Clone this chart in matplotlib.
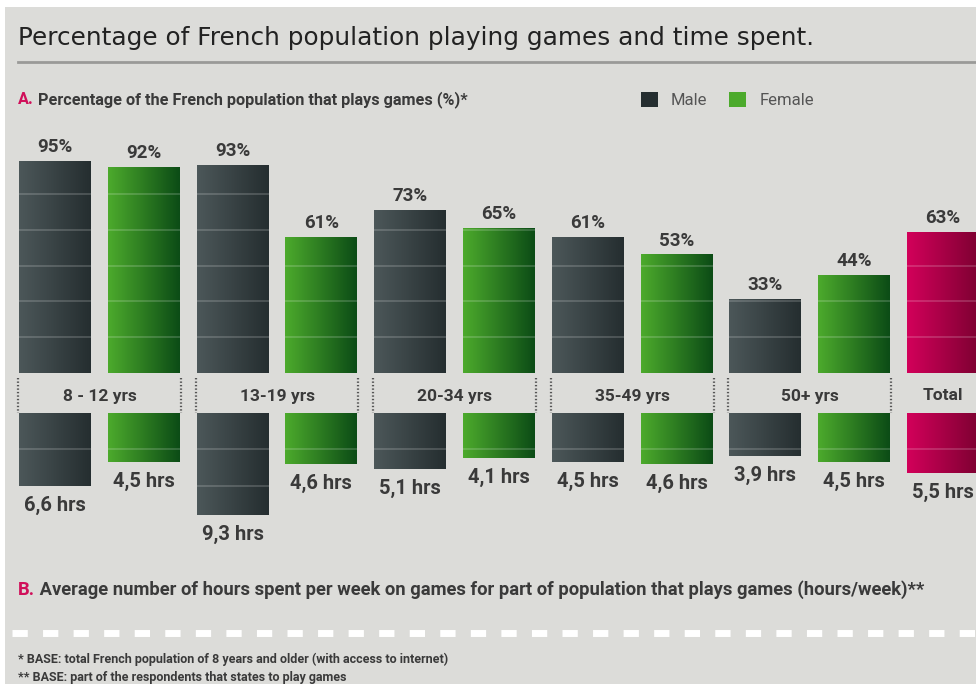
import numpy as np
import matplotlib.pyplot as plt
from matplotlib import font_manager, transforms
from matplotlib.colors import LinearSegmentedColormap
from matplotlib.patches import Patch

plt.rcParams['lines.scale_dashes'] = False

groups = ['8 - 12 yrs', '13-19 yrs', '20-34 yrs', '35-49 yrs', '50+ yrs']
male_pct = [95, 93, 73, 61, 33]
female_pct = [92, 61, 65, 53, 44]
total_pct = 63
male_hrs = [6.6, 9.3, 5.1, 4.5, 3.9]
female_hrs = [4.5, 4.6, 4.1, 4.6, 4.5]
total_hrs = 5.5

names = {f.name for f in font_manager.fontManager.ttflist}
COND = 'Roboto' if 'Roboto' in names else 'DejaVu Sans'
TITLE_FONT = 'DejaVu Sans'

BG = '#dcdcd9'
TXT = '#3a3a3a'
MAGENTA = '#d0105a'
male_cols = ('#4c5759', '#252e30')
female_cols = ('#4caa2c', '#0c4c16')
total_cols = ('#d2005a', '#7e0032')

W, H = 976, 684
fig = plt.figure(figsize=(W / 100, H / 100), dpi=100, facecolor=BG)

# background axes in pixel units for the decoration
bg = fig.add_axes([0, 0, 1, 1], zorder=0)
bg.set_xlim(0, W)
bg.set_ylim(H, 0)
bg.axis('off')
bg.axhspan(0, 7, color='white', lw=0)
bg.axvspan(0, 4.5, color='white', lw=0)
bg.plot([18, W], [62, 62], color='#9a9a98', lw=2)
bg.plot([12, W], [633, 633], color='white', lw=5, dashes=(11, 11))

bg.text(18, 38, 'Percentage of French population playing games and time spent.',
        fontsize=17.8, color='#222222', family=TITLE_FONT, va='center')

ta = bg.text(18, 100, 'A.', color=MAGENTA, fontsize=11.7, family=COND, fontweight='bold', va='center')
bg.annotate(' Percentage of the French population that plays games (%)*', xy=(1, 0.5), xycoords=ta,
            va='center', color=TXT, fontsize=11.7, family=COND, fontweight='bold')
tb = bg.text(18, 590, 'B.', color=MAGENTA, fontsize=13.2, family=COND, fontweight='bold', va='center')
bg.annotate(' Average number of hours spent per week on games for part of population that plays games (hours/week)**',
            xy=(1, 0.5), xycoords=tb, va='center', color=TXT, fontsize=13.2, family=COND, fontweight='bold')
bg.text(18, 659, '* BASE: total French population of 8 years and older (with access to internet)',
        fontsize=9, color=TXT, family=COND, fontweight='bold', va='center')
bg.text(18, 678, '** BASE: part of the respondents that states to play games',
        fontsize=9, color=TXT, family=COND, fontweight='bold', va='center')

# percentage axes (top) and hours axes (bottom)
ax_p = fig.add_axes([0, 1 - 373 / H, 1, 246 / H], zorder=1)
ax_h = fig.add_axes([0, 1 - 545 / H, 1, 132 / H], zorder=1)
for ax in (ax_p, ax_h):
    ax.patch.set_alpha(0)
    ax.axis('off')

x = np.arange(len(groups))
bw = 0.405
grad = np.linspace(0, 1, 64).reshape(1, -1)


def draw_bars(ax, xs, vals, cols, step):
    bars = ax.bar(xs, vals, width=bw, facecolor='none', edgecolor='none')
    cmap = LinearSegmentedColormap.from_list('g', list(cols))
    for b in bars:
        x0, w, h = b.get_x(), b.get_width(), b.get_height()
        im = ax.imshow(grad, cmap=cmap, extent=[x0, x0 + w, 0, h], aspect='auto',
                       interpolation='bilinear', zorder=2)
        im.set_clip_path(b)
        lev = np.arange(step, h, step)
        if len(lev):
            ax.hlines(lev, x0, x0 + w, colors=[(1, 1, 1, 0.18)], lw=1.3, zorder=3)
    return bars


draw_bars(ax_p, x, male_pct, male_cols, 16)
draw_bars(ax_p, x + 0.5, female_pct, female_cols, 16)
draw_bars(ax_p, [5], [total_pct], total_cols, 16)

draw_bars(ax_h, x, male_hrs, male_cols, 3.3)
draw_bars(ax_h, x + 0.5, female_hrs, female_cols, 3.3)
draw_bars(ax_h, [5], [total_hrs], total_cols, 3.3)

pct_x = list(x) + list(x + 0.5) + [5]
pct_v = male_pct + female_pct + [total_pct]
for xi, v in zip(pct_x, pct_v):
    ax_p.annotate(f'{v}%', (xi, v), xytext=(0, 10), textcoords='offset points', ha='center',
                  va='center', fontsize=13.5, color=TXT, family=COND, fontweight='bold')

hrs_v = male_hrs + female_hrs + [total_hrs]
for xi, v in zip(pct_x, hrs_v):
    ax_h.annotate(f'{v:.1f}'.replace('.', ',') + ' hrs', (xi, v), xytext=(0, -14),
                  textcoords='offset points', ha='center', va='center', fontsize=14.5,
                  color=TXT, family=COND, fontweight='bold')

ax_p.set_xlim(-0.31, 5.186)
ax_p.set_ylim(0, 110)
ax_h.set_xlim(-0.31, 5.186)
ax_h.set_ylim(12, 0)

# age band with dotted sides
trans = transforms.blended_transform_factory(ax_p.transData, bg.transData)
for i, g in enumerate(groups):
    for xe in (i - bw / 2 - 0.006, i + 0.5 + bw / 2 + 0.006):
        ax_p.plot([xe, xe], [378, 413], transform=trans, color='#555555', lw=1.6,
                  ls=(0, (1, 1.5)), clip_on=False)
    ax_p.text(i + 0.25, 396, g, transform=trans, ha='center', va='center', fontsize=12.5,
              color=TXT, family=COND, fontweight='bold')
ax_p.text(5, 396, 'Total', transform=trans, ha='center', va='center', fontsize=12.5,
          color=TXT, family=COND, fontweight='bold')

# legend
handles = [Patch(facecolor=male_cols[1]), Patch(facecolor=female_cols[0])]
ax_p.legend(handles, ['Male', 'Female'], loc='center left', bbox_to_anchor=(641 / W, 1 - 100 / H),
            bbox_transform=fig.transFigure, ncol=2, frameon=False, handlelength=1.0,
            handleheight=1.0, handletextpad=0.8, columnspacing=1.3, borderpad=0, borderaxespad=0,
            prop={'family': COND, 'size': 12}, labelcolor='#555555')

fig.savefig('out.png', dpi=100, facecolor=BG)
